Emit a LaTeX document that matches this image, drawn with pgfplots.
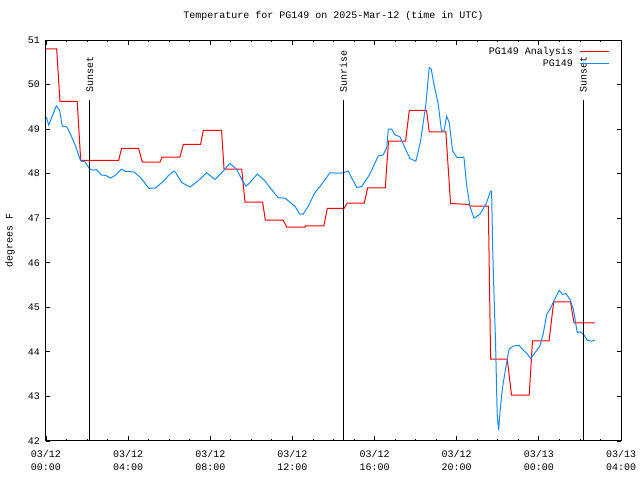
\documentclass[border=0pt]{standalone}
\usepackage{fontspec}
\setmainfont{Liberation Mono}
\usepackage{pgfplots}
\pgfplotsset{compat=1.18}
\definecolor{gpred}{RGB}{255,0,0}
\definecolor{gpblue}{RGB}{20,140,255}
\begin{document}
\fontsize{10bp}{13bp}\selectfont
\begin{tikzpicture}
\useasboundingbox (-46bp,-40bp) rectangle (594bp,441bp);
\begin{axis}[
 at={(0,0)}, anchor=south west, scale only axis, width=575bp, height=401bp,
 xmin=0, xmax=28, ymin=42, ymax=51,
 xtick={0,4,...,28},
 xticklabels={{03/12\\00:00},{03/12\\04:00},{03/12\\08:00},{03/12\\12:00},{03/12\\16:00},{03/12\\20:00},{03/13\\00:00},{03/13\\04:00}},
 minor x tick num=3,
 ytick={42,43,...,51},
 /pgf/number format/assume math mode=true,
 tick align=inside, major tick length=4.5bp, minor tick length=2.3bp,
 axis line style={line width=1bp},
 every tick/.style={black, line width=0.8bp},
 xticklabel style={align=center, yshift=-6bp, font=\fontsize{10bp}{13bp}\selectfont},
 yticklabel style={xshift=-2.5bp, font=\fontsize{10bp}{13bp}\selectfont},
 title={Temperature for PG149 on 2025-Mar-12 (time in UTC)},
 title style={at={(0.5,1)}, anchor=base, yshift=16bp, font=\fontsize{10bp}{13bp}\selectfont},
 ylabel={degrees F},
 ylabel style={at={(axis description cs:0,0.5)}, anchor=center, yshift=36bp, font=\fontsize{10bp}{13bp}\selectfont},
 legend plot pos=right,
 legend cell align=right,
 legend image code/.code={\draw[#1] (0bp,0bp) -- (29bp,0bp);},
 legend style={draw=none, fill=none, inner sep=0pt, at={(1,1)}, anchor=north east,
   xshift=-11bp, yshift=-7bp, row sep=3bp, column sep=7bp,
   nodes={inner sep=0pt, text height=7bp, text depth=2bp},
   font=\fontsize{10bp}{13bp}\selectfont},
]
\addplot[gpred, line width=1bp] coordinates {
(0,50.8)(0.52,50.8)(0.68,49.62)(1.52,49.62)(1.69,48.3)(3.54,48.3)(3.68,48.57)(4.51,48.57)(4.69,48.26)(5.55,48.26)(5.65,48.37)(6.52,48.37)(6.69,48.66)(7.53,48.66)(7.66,48.97)(8.55,48.97)(8.67,48.1)(9.53,48.1)(9.69,47.36)(10.55,47.36)(10.68,46.96)(11.55,46.96)(11.72,46.80)(12.61,46.80)(12.65,46.83)(13.53,46.83)(13.70,47.22)(14.51,47.22)(14.67,47.34)(15.50,47.34)(15.66,47.68)(16.52,47.68)(16.68,48.73)(17.51,48.73)(17.69,49.42)(18.53,49.42)(18.66,48.94)(19.47,48.94)(19.70,47.33)(20.59,47.31)(20.65,47.27)(21.54,47.27)(21.65,43.84)(22.46,43.84)(22.67,43.03)(23.53,43.03)(23.69,44.25)(24.50,44.25)(24.72,45.12)(25.54,45.12)(25.71,44.65)(26.73,44.65)
};
\addlegendentry{PG149 Analysis}
\addplot[gpblue, line width=1bp] coordinates {
(0.02,49.27)(0.13,49.09)(0.50,49.52)(0.66,49.43)(0.79,49.07)(1.01,49.05)(1.20,48.88)(1.44,48.62)(1.66,48.32)(1.77,48.27)(1.88,48.28)(2.14,48.10)(2.30,48.08)(2.47,48.09)(2.69,47.97)(2.91,47.96)(3.15,47.90)(3.39,47.97)(3.67,48.10)(3.88,48.05)(4.28,48.04)(4.61,47.91)(5.01,47.67)(5.34,47.68)(5.74,47.84)(5.99,47.97)(6.23,48.06)(6.32,48.02)(6.61,47.80)(7.01,47.70)(7.41,47.84)(7.82,48.02)(8.23,47.87)(8.55,48.02)(8.96,48.23)(9.28,48.10)(9.53,47.87)(9.74,47.72)(9.93,47.80)(10.29,47.99)(10.66,47.84)(10.90,47.69)(11.31,47.46)(11.64,47.45)(12.12,47.27)(12.36,47.09)(12.52,47.09)(12.77,47.27)(13.09,47.57)(13.42,47.76)(13.83,48.02)(14.23,48.01)(14.48,48.02)(14.72,48.06)(14.88,47.91)(15.13,47.69)(15.37,47.71)(15.77,47.99)(16.18,48.40)(16.42,48.42)(16.59,48.58)(16.67,49.0)(16.83,49.0)(16.99,48.87)(17.23,48.83)(17.48,48.58)(17.72,48.34)(18.01,48.28)(18.24,48.73)(18.50,49.56)(18.66,50.38)(18.76,50.35)(18.86,50.08)(19.10,49.56)(19.26,48.96)(19.38,48.96)(19.51,49.29)(19.64,49.14)(19.80,48.51)(20.02,48.36)(20.35,48.37)(20.48,47.76)(20.64,47.27)(20.84,47.0)(21.13,47.09)(21.42,47.31)(21.65,47.61)(21.70,47.61)(21.75,46.34)(21.81,45.37)(21.89,44.24)(21.97,42.60)(22.04,42.24)(22.10,42.60)(22.23,43.20)(22.39,43.65)(22.55,44.06)(22.75,44.13)(23.03,44.15)(23.24,44.04)(23.43,43.96)(23.60,43.85)(23.81,43.98)(24.05,44.13)(24.21,44.40)(24.38,44.84)(24.54,44.96)(24.73,45.14)(24.99,45.38)(25.15,45.29)(25.32,45.31)(25.51,45.18)(25.68,44.96)(25.87,44.43)(26.00,44.45)(26.20,44.38)(26.36,44.26)(26.57,44.24)(26.73,44.26)
};
\addlegendentry{PG149}
\addplot[black, line width=1bp, forget plot] coordinates {(2.14,42)(2.14,49.65)};
\addplot[black, line width=1bp, forget plot] coordinates {(14.48,42)(14.48,49.65)};
\addplot[black, line width=1bp, forget plot] coordinates {(26.16,42)(26.16,49.65)};
\node[rotate=90, anchor=west, inner sep=0pt] at (axis cs:2.14,49.81) {Sunset};
\node[rotate=90, anchor=west, inner sep=0pt] at (axis cs:14.48,49.81) {Sunrise};
\node[rotate=90, anchor=west, inner sep=0pt] at (axis cs:26.16,49.81) {Sunset};
\end{axis}
\end{tikzpicture}
\end{document}
